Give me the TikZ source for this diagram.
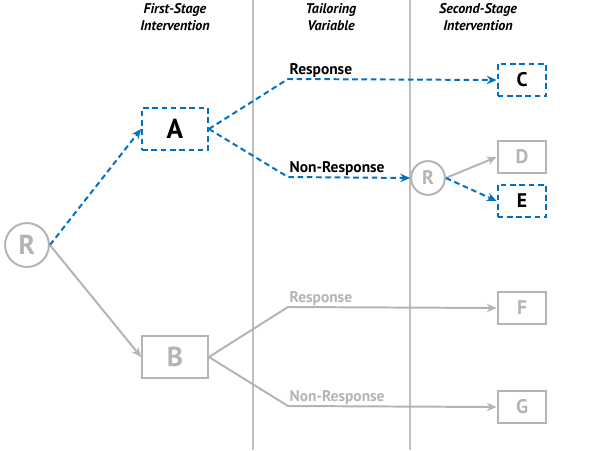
\documentclass[tikz,border=0pt]{standalone}
\usepackage{fontspec}
\setmainfont{PT Sans}
\usetikzlibrary{arrows.meta}
\usetikzlibrary{positioning}

\definecolor{armblue}{RGB}{0,112,192}
\definecolor{armgray}{RGB}{180,180,180}

\begin{document}
\begin{tikzpicture}[x=0.025cm,y=-0.025cm,
  box/.style={draw,line width=1.4pt,minimum width=34.7pt,minimum height=22.7pt,inner sep=0pt,font=\bfseries\fontsize{14}{16}\selectfont},
  bigbox/.style={box,minimum width=46.8pt,minimum height=29.8pt,font=\bfseries\fontsize{19.5}{22}\selectfont},
  randnode/.style={circle,draw=armgray,line width=1.4pt,text=armgray,inner sep=0pt,font=\bfseries},
  bluepath/.style={armblue,line width=1.4pt,dash pattern=on 4pt off 2.6pt},
  graypath/.style={armgray,line width=1.4pt},
  tip/.style={-{Stealth[length=7pt,width=6pt]}},
  arm/.style={font=\bfseries\fontsize{11}{13}\selectfont,anchor=south west,inner sep=1pt},
  head/.style={font=\bfseries\itshape\fontsize{10}{12}\selectfont,align=center}]
\useasboundingbox (0,0) rectangle (600,450);

% stage separators
\draw[armgray!85,line width=0.9pt] (253,0) -- (253,450);
\draw[armgray!85,line width=0.9pt] (410,0) -- (410,450);

% headings
\node[head] (h1) at (175,17) {First-Stage\\Intervention};
\node[head] (h2) at (331,17) {Tailoring\\Variable};
\node[head] (h3) at (478,17) {Second-Stage\\Intervention};

% randomisations
\node[randnode,minimum size=31.2pt,font=\bfseries\fontsize{19.5}{22}\selectfont] (R1) at (27,245) {R};
\node[randnode,minimum size=24pt,font=\bfseries\fontsize{14}{16}\selectfont] (R2) at (428,178) {R};

% interventions
\node[bigbox,draw=armblue,dash pattern=on 4pt off 2.6pt] (A) at (175,129) {A};
\node[bigbox,draw=armgray,text=armgray] (B) at (175,357) {B};
\node[box,draw=armblue,dash pattern=on 4pt off 2.6pt] (C) at (522,80) {C};
\node[box,draw=armgray,text=armgray] (D) at (522,157) {D};
\node[box,draw=armblue,dash pattern=on 4pt off 2.6pt] (E) at (522,201) {E};
\node[box,draw=armgray,text=armgray] (F) at (522,308) {F};
\node[box,draw=armgray,text=armgray] (G) at (522,407) {G};

% tailoring bends
\coordinate (respA) at (288,79);
\coordinate (nonA) at (288,177);
\coordinate (respB) at (288,307);
\coordinate (nonB) at (288,406);

\node[arm] (lrespA) at (respA) {Response};
\node[arm] (lnonA) at (nonA) {Non-Response};
\node[arm,text=armgray] (lrespB) at (respB) {Response};
\node[arm,text=armgray] (lnonB) at (nonB) {Non-Response};

% paths
\draw[bluepath,tip] (R1.east) -- (A.west);
\draw[graypath,tip] (R1.east) -- (B.west);
\draw[bluepath,tip] (A.east) -- (respA) -- (C.west);
\draw[bluepath,tip] (A.east) -- (nonA) -- (R2.west);
\draw[graypath,tip] (R2.east) -- (D.west);
\draw[bluepath,tip] (R2.east) -- (E.west);
\draw[graypath,tip] (B.east) -- (respB) -- (F.west);
\draw[graypath,tip] (B.east) -- (nonB) -- (G.west);

\end{tikzpicture}
\end{document}
